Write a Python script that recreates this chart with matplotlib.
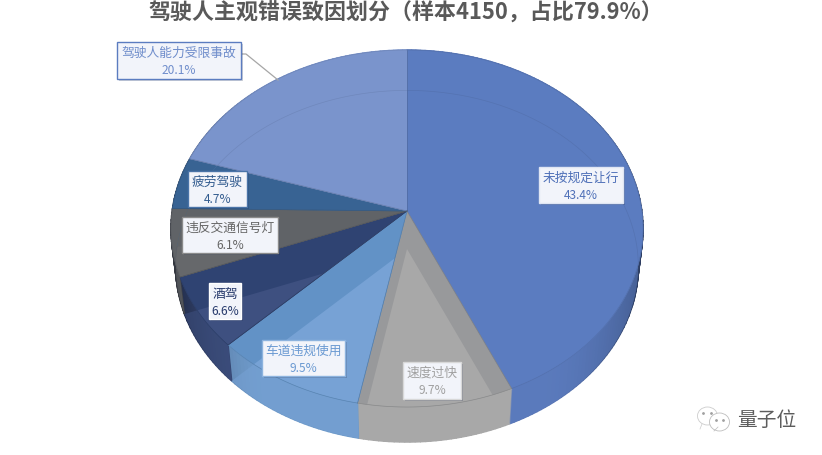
import matplotlib
matplotlib.use("Agg")
import matplotlib.pyplot as plt
from matplotlib.patches import Polygon, Rectangle, Ellipse
import numpy as np

plt.rcParams['font.family'] = ['Noto Sans CJK SC', 'DejaVu Sans']

title = "驾驶人主观错误致因划分（样本4150，占比79.9%）"
labels = ["未按规定让行", "速度过快", "车道违规使用", "酒驾", "违反交通信号灯", "疲劳驾驶", "驾驶人能力受限事故"]
shares = [43.4, 9.7, 9.5, 6.6, 6.1, 4.7, 20.1]

top_colors = ["#5b7cc0", "#98999b", "#6292c6", "#2f4372", "#606367", "#386393", "#7a94cc"]
low_colors = ["#5b7cc0", "#a8a8a8", "#77a2d5", "#3e5080", "#66686b", "#386393", "#7a94cc"]
wall_colors = ["#5a78b8", "#a8a8a8", "#6f9bcb", "#3c4e7e", "#6e6e6e", "#3d6698", "#7a94cc"]
text_colors = ["#4f70b8", "#a0a0a0", "#6b9ad2", "#26396b", "#666666", "#335c8f", "#6f8dcb"]
edge_colors = ["#dfe5f3", "#d8d8d8", "#8db3de", "#ffffff", "#8a8a8a", "#4a74a8", "#5b7cc0"]

# label boxes in pixels: left, top, right, bottom
boxes = [(539, 168, 623, 204), (403, 363, 461, 400), (262, 341, 345, 377), (209, 284, 241, 320),
         (182, 218, 278, 254), (188, 172, 247, 208), (117, 43, 241, 80)]

CX, CY = 407, 212
DEPTH = 38
K = 0.098
A, B = 234.9, 176.8


def rim(t):
    # perspective view of the pie's circle, t is clockwise from 12 o'clock
    u, v = np.sin(t), -np.cos(t)
    w = 1 - K * v
    return A * u / w, B * v / w


def top_pts(t):
    x, y = rim(t)
    return np.column_stack([CX + x, CY + y])


def low_pts(t):
    x, y = rim(t)
    return np.column_stack([CX + 0.98 * x, CY + DEPTH + 0.985 * y])


def mix(color, other, f):
    c1 = np.array(matplotlib.colors.to_rgb(color))
    c2 = np.array(matplotlib.colors.to_rgb(other))
    return tuple(c1 * (1 - f) + c2 * f)


fig = plt.figure(figsize=(8.22, 4.56), dpi=100)
ax = fig.add_axes([0, 0, 1, 1])
ax.set_xlim(0, 822)
ax.set_ylim(456, 0)
ax.axis("off")

edges = np.cumsum([0] + shares) / sum(shares) * 2 * np.pi
walls = []

# side wall first, shaded darker towards the left and right edges
for i in range(len(shares)):
    ts = np.linspace(edges[i], edges[i + 1], int(shares[i] * 3) + 2)
    up, lo = top_pts(ts), low_pts(ts)
    for j in range(len(ts) - 1):
        f = np.clip((abs(np.sin(ts[j])) - 0.55) / 0.45, 0, 1) ** 1.6 * 0.62
        shade = mix(wall_colors[i], "#0c1220", f)
        quad = [up[j], up[j + 1], lo[j + 1], lo[j]]
        ax.add_patch(Polygon(quad, closed=True, fc=shade, ec=shade, lw=1.0, zorder=2))
    walls.append(np.vstack([up, lo[::-1]]))

# top faces, with the bottom face showing through them
for i in range(len(shares)):
    ts = np.linspace(edges[i], edges[i + 1], int(shares[i] * 6) + 2)
    top = np.vstack([[CX, CY], top_pts(ts)])
    low = np.vstack([[CX, CY + DEPTH], low_pts(ts)])
    face = Polygon(top, closed=True, fc=top_colors[i], ec=top_colors[i], lw=0.4, zorder=3)
    ax.add_patch(face)
    inner = Polygon(low, closed=True, fc=low_colors[i], ec="none", zorder=4)
    ax.add_patch(inner)
    inner.set_clip_path(face)
    wall = Polygon(walls[i], closed=True, fc="none", ec="none", zorder=1)
    ax.add_patch(wall)
    through = Polygon(low, closed=True, fc=low_colors[i], ec="none", alpha=0.55, zorder=4)
    ax.add_patch(through)
    through.set_clip_path(wall)
    line, = ax.plot(low_pts(ts)[:, 0], low_pts(ts)[:, 1], color="#33415f", lw=0.5, alpha=0.15, zorder=5)
    line.set_clip_path(face)
    ax.plot(top[1:, 0], top[1:, 1], color=mix(top_colors[i], "#222222", 0.12), lw=0.5, zorder=5)
    ax.plot([CX, top[1, 0]], [CY, top[1, 1]], color=mix(top_colors[i], "#222222", 0.2), lw=0.5, zorder=5)

# leader line for the outside label
ax.plot([241, 246, 278], [55, 55, 81], color="#a6a6a6", lw=0.9, zorder=6)

# data labels
for i, name in enumerate(labels):
    x0, y0, x1, y1 = boxes[i]
    ax.add_patch(Rectangle((x0 + 1.5, y0 + 2), x1 - x0, y1 - y0, fc="#1c2a4a", ec="none", alpha=0.22, zorder=7))
    ax.add_patch(Rectangle((x0, y0), x1 - x0, y1 - y0, fc="#f2f4fa", ec=edge_colors[i], lw=1.0, zorder=8))
    xm = (x0 + x1) / 2
    ax.text(xm, y0 + 10.5, name, color=text_colors[i], fontsize=9.2, ha="center", va="center", zorder=9)
    ax.text(xm, y0 + 27.5, f"{shares[i]}%", color=text_colors[i], fontsize=8.6, ha="center", va="center", zorder=9)

ax.text(406, 13, title, color="#595959", fontsize=15.8, fontweight="bold", ha="center", va="center")

# watermark
ax.add_patch(Ellipse((707.5, 417), 20, 18, fc="none", ec="#cccccc", lw=0.6))
ax.add_patch(Ellipse((719.5, 423), 20, 18, fc="white", ec="#bdbdbd", lw=0.6))
ax.plot([714, 718], [432, 428], color="#bdbdbd", lw=0.5)
ax.plot([702, 700], [425, 430], color="#cccccc", lw=0.5)
ax.plot([703, 711, 716, 723], [414, 414, 421, 421], ls="none", marker="o", ms=1.0, color="#a0a0a0")
ax.text(766.5, 420, "量子位", color="#5c5c5c", fontsize=14.2, ha="center", va="center")

fig.savefig("out.png", dpi=100)
